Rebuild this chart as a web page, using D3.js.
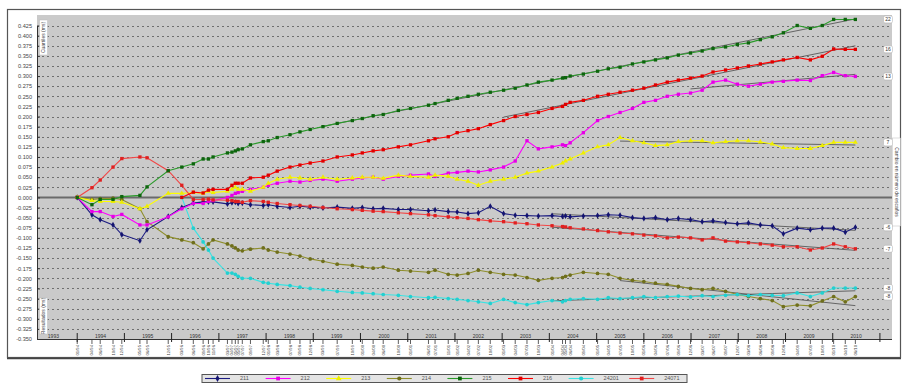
<!DOCTYPE html>
<html><head><meta charset="utf-8">
<script src="https://cdn.jsdelivr.net/npm/d3@7"></script>
<style>body{margin:0;background:#fff}text{font-family:"Liberation Sans",Arial,sans-serif}</style>
</head><body>
<svg id="chart" width="903" height="390"></svg>
<script>
// ---------- DATA ----------
const dates = ["1994-01-01","1994-04-25","1994-06-28","1994-10-05","1994-12-12","1995-05-01","1995-06-25","1995-12-06",
"1996-03-20","1996-06-17","1996-09-01","1996-10-12","1996-11-17","1997-03-08","1997-04-12","1997-05-08","1997-05-30","1997-07-01",
"1997-09-02","1997-12-10","1998-01-18","1998-03-28","1998-07-05","1998-09-20","1998-12-08","1999-03-17","1999-07-05","1999-10-30",
"2000-01-15","2000-04-08","2000-06-25","2000-10-20","2001-01-22","2001-06-10","2001-07-31","2001-11-10","2002-01-18","2002-04-12",
"2002-07-01","2002-10-01","2003-01-12","2003-04-12","2003-07-12","2003-10-08","2004-01-22","2004-04-12","2004-05-05","2004-06-10",
"2004-09-20","2005-01-08","2005-04-01","2005-07-01","2005-10-05","2006-01-01","2006-04-01","2006-07-01","2006-09-25","2006-12-28",
"2007-03-28","2007-06-20","2007-09-25","2007-12-25","2008-03-20","2008-06-20","2008-09-20","2008-12-15","2009-04-01","2009-07-12",
"2009-10-12","2010-01-08","2010-04-08","2010-06-25"];

const s211 = [0,-0.043,-0.055,-0.068,-0.092,-0.107,-0.08,-0.047,-0.025,-0.014,-0.011,-0.011,-0.011,-0.016,-0.013,-0.012,-0.015,-0.014,
-0.018,-0.02,-0.018,-0.022,-0.025,-0.022,-0.024,-0.026,-0.024,-0.027,-0.025,-0.028,-0.027,-0.03,-0.03,-0.033,-0.031,-0.035,-0.036,-0.04,
-0.038,-0.022,-0.04,-0.044,-0.045,-0.046,-0.045,-0.047,-0.046,-0.048,-0.046,-0.045,-0.043,-0.044,-0.05,-0.052,-0.05,-0.055,-0.052,-0.055,
-0.06,-0.058,-0.062,-0.065,-0.063,-0.068,-0.07,-0.09,-0.076,-0.08,-0.076,-0.076,-0.086,-0.074];

const s212 = [0,-0.035,-0.035,-0.047,-0.042,-0.068,-0.068,-0.048,-0.028,-0.015,-0.015,-0.01,-0.008,0.0,0.005,0.01,0.012,0.015,
0.02,0.025,0.03,0.035,0.04,0.038,0.042,0.045,0.04,0.045,0.048,0.05,0.045,0.052,0.055,0.058,0.052,0.06,0.062,0.065,
0.063,0.068,0.075,0.09,0.14,0.12,0.125,0.13,0.128,0.135,0.16,0.19,0.2,0.21,0.22,0.235,0.24,0.25,0.255,0.258,
0.265,0.285,0.29,0.28,0.275,0.28,0.285,0.287,0.29,0.289,0.301,0.309,0.301,0.299];

const s213 = [0,-0.008,-0.01,-0.01,-0.012,-0.028,-0.022,0.01,0.01,0.012,0.01,0.015,0.012,0.015,0.02,0.025,0.02,0.02,
0.015,0.025,0.035,0.045,0.05,0.048,0.045,0.05,0.045,0.048,0.05,0.05,0.047,0.055,0.052,0.05,0.055,0.052,0.045,0.04,
0.03,0.04,0.045,0.05,0.06,0.065,0.075,0.085,0.09,0.095,0.11,0.125,0.13,0.148,0.14,0.135,0.128,0.13,0.138,0.14,
0.14,0.135,0.138,0.14,0.14,0.137,0.132,0.123,0.121,0.121,0.128,0.136,0.136,0.136];

const s214 = [0,-0.005,-0.003,-0.002,-0.005,-0.028,-0.06,-0.097,-0.105,-0.112,-0.127,-0.115,-0.105,-0.115,-0.12,-0.125,-0.13,-0.132,
-0.128,-0.125,-0.13,-0.135,-0.14,-0.145,-0.152,-0.158,-0.165,-0.168,-0.172,-0.175,-0.172,-0.18,-0.182,-0.185,-0.18,-0.19,-0.192,-0.188,
-0.18,-0.185,-0.19,-0.192,-0.198,-0.205,-0.2,-0.198,-0.195,-0.192,-0.185,-0.188,-0.19,-0.2,-0.205,-0.208,-0.212,-0.215,-0.22,-0.225,
-0.228,-0.225,-0.232,-0.24,-0.245,-0.25,-0.255,-0.27,-0.266,-0.268,-0.256,-0.245,-0.258,-0.245];

const s215 = [0,-0.018,-0.005,-0.005,0.002,0.005,0.026,0.066,0.075,0.083,0.095,0.095,0.1,0.11,0.112,0.115,0.118,0.12,
0.13,0.138,0.14,0.148,0.155,0.162,0.168,0.175,0.183,0.19,0.195,0.202,0.205,0.215,0.22,0.228,0.232,0.24,0.245,0.25,
0.255,0.26,0.265,0.27,0.278,0.285,0.29,0.295,0.296,0.3,0.305,0.312,0.318,0.322,0.33,0.335,0.34,0.345,0.352,0.357,
0.362,0.368,0.372,0.378,0.382,0.39,0.397,0.407,0.425,0.418,0.425,0.44,0.44,0.44];

const s216 = [null,null,null,null,null,null,null,null,0.0,0.013,0.011,0.018,0.02,0.02,0.03,0.035,0.035,0.035,
0.048,0.05,0.055,0.065,0.075,0.08,0.085,0.09,0.1,0.105,0.11,0.115,0.118,0.125,0.13,0.14,0.145,0.15,0.16,0.165,
0.17,0.18,0.19,0.2,0.205,0.21,0.22,0.225,0.23,0.235,0.24,0.25,0.255,0.26,0.265,0.27,0.278,0.285,0.29,0.295,
0.3,0.31,0.315,0.32,0.325,0.33,0.335,0.34,0.346,0.34,0.349,0.367,0.366,0.366];

const s24201 = [null,null,null,null,null,null,null,null,0.0,-0.076,-0.11,-0.13,-0.15,-0.187,-0.187,-0.19,-0.195,-0.2,
-0.2,-0.21,-0.212,-0.215,-0.218,-0.222,-0.225,-0.228,-0.232,-0.235,-0.236,-0.238,-0.24,-0.242,-0.245,-0.248,-0.247,-0.25,-0.252,-0.255,
-0.258,-0.262,-0.252,-0.26,-0.265,-0.26,-0.255,-0.258,-0.255,-0.252,-0.25,-0.252,-0.248,-0.25,-0.248,-0.245,-0.248,-0.245,-0.244,-0.246,
-0.243,-0.245,-0.242,-0.24,-0.243,-0.24,-0.242,-0.243,-0.236,-0.245,-0.236,-0.224,-0.224,-0.224];

const s24071 = [0,0.024,0.043,0.075,0.096,0.1,0.098,0.066,0.03,-0.005,-0.005,-0.004,-0.006,-0.007,-0.008,-0.01,-0.01,-0.012,
-0.008,-0.01,-0.012,-0.015,-0.018,-0.02,-0.022,-0.025,-0.028,-0.03,-0.032,-0.034,-0.035,-0.038,-0.04,-0.043,-0.045,-0.048,-0.05,-0.052,
-0.055,-0.058,-0.06,-0.063,-0.065,-0.068,-0.07,-0.072,-0.073,-0.075,-0.078,-0.082,-0.085,-0.088,-0.09,-0.093,-0.095,-0.1,-0.098,-0.1,
-0.105,-0.1,-0.108,-0.11,-0.112,-0.115,-0.118,-0.122,-0.122,-0.13,-0.125,-0.115,-0.122,-0.127];

const seriesNames = ["211","212","213","214","215","216","24201","24071"];
const seriesColors = ["#1c1c82","#ff00ff","#ffff00","#8f8f2c","#2a9a2a","#ff0000","#3ae4e4","#f24646"];
const markerColors = ["#141470","#e600e6","#eeee00","#6f6f1c","#0d650d","#e00000","#22d0d0","#e02020"];
const endLabels = ["-6","13","7","-8","22","16","-8","-7"];
const trendStart = [44,57,51,51,25,40,44,44];
const yTickValues = [-0.35,-0.325,-0.3,-0.275,-0.25,-0.225,-0.2,-0.175,-0.15,-0.125,-0.1,-0.075,-0.05,-0.025,0,
0.025,0.05,0.075,0.1,0.125,0.15,0.175,0.2,0.225,0.25,0.275,0.3,0.325,0.35,0.375,0.4,0.425];
const yearLabels = ["1993","1994","1995","1996","1997","1998","1999","2000","2001","2002","2003","2004","2005","2006","2007","2008","2009","2010"];
const leftTitleTop = "Cuartiles (ms)";
const leftTitleBottom = "Resultados (ms)";
const rightTitle = "Cambio en número de escaños";

// ---------- CHART ----------
const svg = d3.select("#chart");
const parse = d3.timeParse("%Y-%m-%d");
const D = dates.map(parse);
const allSeries = [s211,s212,s213,s214,s215,s216,s24201,s24071];

const P = {l:37, r:892, t:15, b:339};
const x = d3.scaleTime().domain([new Date(1993,1,24), new Date(2011,2,20)]).range([37, 890]);
const y = d3.scaleLinear().domain([-0.35, 0.425]).range([339, 25.5]);

// outer frame
svg.append("rect").attr("x",7.5).attr("y",9.5).attr("width",893).attr("height",348)
  .attr("fill","#fff").attr("stroke","#555").attr("stroke-width",1.2);
svg.append("line").attr("x1",7).attr("x2",901).attr("y1",358.5).attr("y2",358.5).attr("stroke","#444").attr("stroke-width",1.5);

// plot area
svg.append("rect").attr("x",P.l).attr("y",P.t).attr("width",P.r-P.l).attr("height",P.b-P.t).attr("fill","#cacaca");

// gridlines
svg.append("g").selectAll("line").data(yTickValues).join("line")
  .attr("x1",P.l).attr("x2",P.r).attr("y1",d=>Math.round(y(d))+0.5).attr("y2",d=>Math.round(y(d))+0.5)
  .attr("stroke","#6e6e6e").attr("stroke-width",1).attr("stroke-dasharray","2,3");

// zero line
svg.append("line").attr("x1",P.l).attr("x2",P.r).attr("y1",y(0)).attr("y2",y(0))
  .attr("stroke","#6a6a6a").attr("stroke-width",2);

// y axis
const fmt = d => d3.format(".3f")(d).replace("\u2212","-");
const yAx = svg.append("g").attr("transform",`translate(${P.l},0)`)
  .call(d3.axisLeft(y).tickValues(yTickValues).tickFormat(fmt).tickSizeInner(3).tickSizeOuter(0).tickPadding(2));
yAx.select(".domain").attr("stroke","#333");
yAx.selectAll(".tick line").attr("stroke","#333").attr("x2",3);
yAx.selectAll("text").attr("font-size",5.6).attr("fill","#444").attr("font-family","Liberation Sans, Arial, sans-serif");

// x axis
svg.append("line").attr("x1",P.l).attr("x2",P.r).attr("y1",P.b+0.5).attr("y2",P.b+0.5).attr("stroke","#333");
const yearStarts = yearLabels.slice(1).map(v=>new Date(+v,0,1)).concat([new Date(2011,0,1)]);
svg.append("g").selectAll("line").data(yearStarts).join("line")
  .attr("x1",d=>x(d)).attr("x2",d=>x(d)).attr("y1",P.b-6).attr("y2",P.b+3)
  .attr("stroke","#222").attr("stroke-width",1);
svg.append("g").selectAll("text").data(yearLabels).join("text")
  .attr("x",d=>x(new Date(+d,6,1))).attr("y",P.b-1.5).attr("text-anchor","middle")
  .attr("font-size",5).attr("fill","#333").text(d=>d);
// date ticks + rotated labels
const dfmt = d3.timeFormat("%m/%y");
svg.append("g").selectAll("line").data(D).join("line")
  .attr("x1",d=>x(d)).attr("x2",d=>x(d)).attr("y1",P.b+1).attr("y2",P.b+5).attr("stroke","#333").attr("stroke-width",0.8);
svg.append("g").selectAll("text").data(D).join("text")
  .attr("transform",d=>`translate(${x(d)+1.5},${P.b+6}) rotate(-90)`)
  .attr("text-anchor","end").attr("font-size",4.2).attr("fill","#444").text(d=>dfmt(d));

// trend lines (least squares on each series' recent data)
allSeries.forEach((s,i)=>{
  const pts = s.map((v,j)=>({t:+D[j],v})).filter((p,j)=>j>=trendStart[i] && p.v!=null);
  const mt = d3.mean(pts,p=>p.t), mv = d3.mean(pts,p=>p.v);
  const b = d3.sum(pts,p=>(p.t-mt)*(p.v-mv))/d3.sum(pts,p=>(p.t-mt)**2);
  const t0 = pts[0].t, t1 = pts[pts.length-1].t;
  svg.append("line").attr("x1",x(t0)).attr("x2",x(t1))
    .attr("y1",y(mv+b*(t0-mt))).attr("y2",y(mv+b*(t1-mt)))
    .attr("stroke","#4a4a4a").attr("stroke-width",0.8);
});

// series
const symbols = [d3.symbolDiamond,d3.symbolSquare,d3.symbolTriangle,d3.symbolCircle,d3.symbolSquare,d3.symbolSquare,d3.symbolCircle,d3.symbolSquare];
const line = d3.line().defined(d=>d.v!=null).x(d=>x(d.t)).y(d=>y(d.v));
const drawOrder = [3,6,0,1,2,7,5,4];
drawOrder.forEach(i=>{
  const s = allSeries[i];
  const data = s.map((v,j)=>({t:D[j],v}));
  const g = svg.append("g");
  g.append("path").datum(data).attr("d",line).attr("fill","none")
    .attr("stroke",seriesColors[i]).attr("stroke-width",1.1);
  g.selectAll("path.m").data(data.filter(d=>d.v!=null)).join("path").attr("class","m")
    .attr("transform",d=>`translate(${x(d.t)},${y(d.v)})`)
    .attr("d",d3.symbol().type(symbols[i]).size(11))
    .attr("fill",markerColors[i]);
});

// end labels
allSeries.forEach((s,i)=>{
  const yy = y(s[s.length-1]);
  const g = svg.append("g").attr("transform",`translate(888,${yy})`);
  g.append("rect").attr("x",-4.5).attr("y",-3.5).attr("width",9).attr("height",7).attr("rx",1.5)
    .attr("fill","#fff").attr("stroke","#aaa").attr("stroke-width",0.5);
  g.append("text").attr("text-anchor","middle").attr("dy","0.35em").attr("font-size",5).attr("fill","#333").text(endLabels[i]);
});

// inner vertical titles
function vTitle(cx, y0, y1, txt, rot){
  const g = svg.append("g");
  g.append("rect").attr("x",cx-4).attr("y",y0).attr("width",8).attr("height",y1-y0)
    .attr("fill","#fff").attr("stroke","#bbb").attr("stroke-width",0.5);
  g.append("text").attr("transform",`translate(${cx},${(y0+y1)/2}) rotate(${rot})`)
    .attr("text-anchor","middle").attr("dy","0.35em").attr("font-size",5).attr("fill","#444").text(txt);
}
vTitle(43.5, 20, 55, leftTitleTop, -90);
vTitle(43.5, 298, 334, leftTitleBottom, -90);
vTitle(896.5, 138, 226, rightTitle, 90);

// legend
const L = {x:202, y:374.5, w:485, h:8};
svg.append("rect").attr("x",L.x).attr("y",L.y).attr("width",L.w).attr("height",L.h)
  .attr("fill","#e4e4e4").attr("stroke","#555").attr("stroke-width",1);
seriesNames.forEach((n,i)=>{
  const x0 = L.x + 3 + i*60.6, cy = L.y + L.h/2;
  svg.append("line").attr("x1",x0).attr("x2",x0+25).attr("y1",cy).attr("y2",cy)
    .attr("stroke",seriesColors[i]).attr("stroke-width",1.1);
  svg.append("path").attr("transform",`translate(${x0+12.5},${cy})`)
    .attr("d",d3.symbol().type(symbols[i]).size(14)).attr("fill",markerColors[i]);
  svg.append("text").attr("x",x0+35).attr("y",cy).attr("dy","0.35em")
    .attr("font-size",5.5).attr("fill","#555").text(n);
});
</script>
</body></html>
